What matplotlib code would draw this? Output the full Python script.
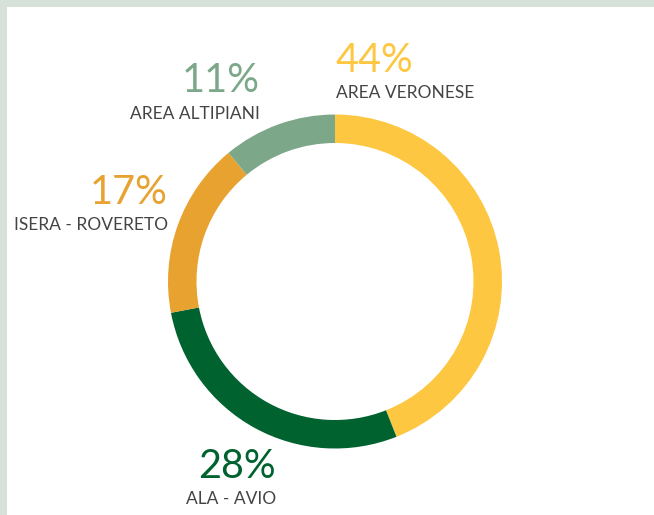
import matplotlib
matplotlib.use("Agg")
import matplotlib.pyplot as plt
from matplotlib.patches import Rectangle

# data, clockwise from the top
regions = ["AREA VERONESE", "ALA - AVIO", "ISERA - ROVERETO", "AREA ALTIPIANI"]
shares = [44, 28, 17, 11]
colors = ["#fec742", "#00622f", "#e7a22f", "#7ca889"]

plt.rcParams['font.family'] = ['Lato', 'DejaVu Sans']

W, H = 654, 515
fig = plt.figure(figsize=(W / 100, H / 100), dpi=100, facecolor="#d6e2d9")
ax = fig.add_axes([0, 0, 1, 1])

# white panel
ax.add_patch(Rectangle((7, 0), W - 7, H - 7, facecolor="white", edgecolor="none", zorder=0))

cx, cy = 335, H - 281.5
R = 167
ax.pie(shares, colors=colors, startangle=90, counterclock=False,
       center=(cx, cy), radius=R, frame=True,
       wedgeprops=dict(width=28.5, edgecolor="none", linewidth=0))
ax.set_xlim(0, W)
ax.set_ylim(0, H)
ax.set_aspect('equal')
ax.axis('off')

# label placement (pixel coords from top-left), alignment
label_pos = [(336, 61, 93, 'left'),
             (276, 467, 499, 'right'),
             (168, 192, 225, 'right'),
             (260, 81, 114, 'right')]

for name, val, col, (x, yp, yl, ha) in zip(regions, shares, colors, label_pos):
    ax.text(x, H - yp, f"{val}%", color=col, fontsize=28.5, ha=ha, va='center')
    ax.text(x, H - yl, name, color="#444444", fontsize=12.5, ha=ha, va='center')

fig.savefig("out.png", dpi=100, facecolor=fig.get_facecolor())
